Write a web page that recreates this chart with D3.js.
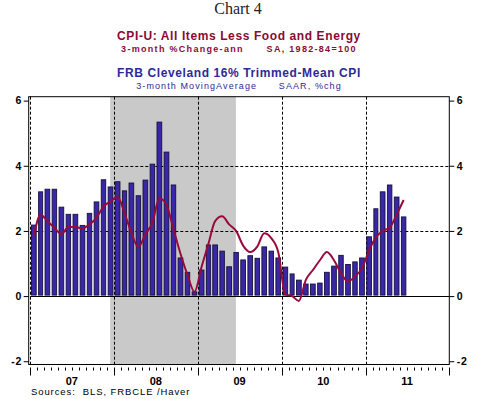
<!DOCTYPE html>
<html>
<head>
    <meta charset="utf-8">
    <style>
        body { margin: 0; background: #fff; }
        svg { display: block; }
        text { font-family: 'Liberation Sans', Arial, sans-serif; }
        .title-serif { font-family: 'Liberation Serif', 'Times New Roman', serif; }
        .grid { stroke: #000; stroke-width: 1px; stroke-dasharray: 3,2; }
    </style>
    <script src="https://d3js.org/d3.v7.min.js"></script>
</head>
<body>
    <script>
        // monthly data, Jan 2007 - Jun 2011
        const trimmedMean = [2.18, 3.2, 3.28, 3.28, 2.73, 2.51, 2.51, 2.17, 2.54, 2.89, 3.57, 3.35,
            3.51, 3.23, 3.47, 3.08, 3.56, 4.05, 5.34, 4.42, 3.41, 1.17, 0.73, 0.13,
            0.8, 1.57, 1.57, 1.38, 0.9, 1.34, 1.11, 1.24, 1.16, 1.51, 1.38, 1.17,
            0.89, 0.68, 0.49, 0.37, 0.37, 0.4, 0.73, 0.92, 1.25, 0.97, 1.05, 1.17,
            1.82, 2.68, 3.2, 3.41, 3.04, 2.43];

        const coreCPI = [1.85, 2.5, 2.3, 2.1, 1.9, 2.12, 2.12, 2.08, 2.2, 2.4, 2.75, 2.9,
            3.05, 2.55, 1.95, 1.5, 1.9, 2.25, 3.0, 2.8, 2.05, 1.3, 0.65, 0.13,
            0.9, 1.6, 2.3, 2.45, 2.2, 2.0, 1.55, 1.35, 1.52, 1.93, 1.78, 1.35,
            0.05, 0.0, -0.15, 0.5, 0.8, 1.1, 1.35, 1.1, 0.7, 0.45, 0.6, 0.85,
            1.4, 1.8, 2.0, 2.1, 2.5, 2.95];

        const yearLabels = ['07', '08', '09', '10', '11'];
        const yTicks = [-2, 0, 2, 4, 6];
        const gridValues = [2, 4];
        const recession = [new Date(2007, 11, 15), new Date(2009, 5, 15)];

        const width = 489, height = 399;
        const start = new Date(2007, 0, 1), end = new Date(2012, 0, 1);

        const x = d3.scaleTime().domain([start, end]).range([30.3, 449.3]);
        const y = d3.scaleLinear().domain([-2.1, 6.12]).range([364.5, 96.7]);

        const months = trimmedMean.map((_, i) => d3.timeMonth.offset(start, i));
        const mid = d => new Date((+d + +d3.timeMonth.offset(d, 1)) / 2);

        const svg = d3.select('body').append('svg')
            .attr('width', width)
            .attr('height', height);

        // titles
        svg.append('text').attr('class', 'title-serif')
            .attr('x', 238).attr('y', 14).attr('text-anchor', 'middle')
            .style('font-size', '16px').style('fill', '#222')
            .text('Chart 4');

        svg.append('text')
            .attr('x', 239).attr('y', 40).attr('text-anchor', 'middle')
            .style('font-size', '12px').style('font-weight', 'bold')
            .style('letter-spacing', '0.6px').style('fill', '#8a0a33')
            .text('CPI-U: All Items Less Food and Energy');

        svg.append('text')
            .attr('x', 239).attr('y', 52).attr('text-anchor', 'middle')
            .style('font-size', '9px').style('font-weight', 'bold')
            .style('letter-spacing', '1.3px').style('fill', '#8a0a33')
            .style('white-space', 'pre')
            .text('3-month %Change-ann      SA, 1982-84=100');

        svg.append('text')
            .attr('x', 239).attr('y', 77).attr('text-anchor', 'middle')
            .style('font-size', '12px').style('font-weight', 'bold')
            .style('letter-spacing', '0.6px').style('fill', '#2e2a96')
            .text('FRB Cleveland 16% Trimmed-Mean CPI');

        svg.append('text')
            .attr('x', 239).attr('y', 89).attr('text-anchor', 'middle')
            .style('font-size', '9px')
            .style('letter-spacing', '1.1px').style('fill', '#2e2a96')
            .style('white-space', 'pre')
            .text('3-month MovingAverage      SAAR, %chg');

        // recession shading
        svg.append('rect')
            .attr('x', x(recession[0]))
            .attr('y', y.range()[1])
            .attr('width', x(recession[1]) - x(recession[0]))
            .attr('height', y.range()[0] - y.range()[1])
            .style('fill', '#c9c9c9');

        // grid
        svg.selectAll('line.hgrid')
            .data(gridValues)
            .enter().append('line')
            .attr('class', 'grid')
            .attr('x1', x.range()[0]).attr('x2', x.range()[1])
            .attr('y1', d => Math.round(y(d)) + 0.5).attr('y2', d => Math.round(y(d)) + 0.5);

        const yearStarts = d3.timeYear.range(start, end);
        svg.selectAll('line.vgrid')
            .data(yearStarts)
            .enter().append('line')
            .attr('class', 'grid')
            .attr('x1', d => Math.round(x(d)) + 0.5).attr('x2', d => Math.round(x(d)) + 0.5)
            .attr('y1', y.range()[1]).attr('y2', y.range()[0]);

        // bars
        svg.selectAll('rect.bar')
            .data(trimmedMean)
            .enter().append('rect')
            .attr('class', 'bar')
            .attr('x', (d, i) => x(months[i]) + 1.2)
            .attr('width', (d, i) => x(d3.timeMonth.offset(months[i], 1)) - x(months[i]) - 2.4)
            .attr('y', d => y(d))
            .attr('height', d => y(0) - y(d) - 1)
            .style('fill', '#3a27a6')
            .style('stroke', '#14103c')
            .style('stroke-width', 0.9);

        // zero line
        svg.append('line')
            .attr('x1', x.range()[0]).attr('x2', x.range()[1])
            .attr('y1', Math.round(y(0)) + 0.5).attr('y2', Math.round(y(0)) + 0.5)
            .style('stroke', '#000');

        // core CPI line
        const line = d3.line()
            .x((d, i) => x(mid(months[i])))
            .y(d => y(d))
            .curve(d3.curveMonotoneX);

        svg.append('path')
            .datum(coreCPI)
            .attr('d', line)
            .style('fill', 'none')
            .style('stroke', '#990a3a')
            .style('stroke-width', 2);

        // frame
        const left = x.range()[0] - 1.6, right = x.range()[1];
        svg.append('rect')
            .attr('x', left).attr('y', y.range()[1])
            .attr('width', right - left)
            .attr('height', y.range()[0] - y.range()[1])
            .style('fill', 'none').style('stroke', '#000');

        // y axes both sides
        const fmt = d => d < 0 ? '-' + Math.abs(d) : String(d);
        const yAxisLeft = d3.axisLeft(y).tickValues(yTicks).tickSize(5).tickFormat(fmt);
        const yAxisRight = d3.axisRight(y).tickValues(yTicks).tickSize(5).tickFormat(fmt);

        const gl = svg.append('g').attr('transform', `translate(${left},0)`).call(yAxisLeft);
        const gr = svg.append('g').attr('transform', `translate(${right},0)`).call(yAxisRight);
        [gl, gr].forEach(g => {
            g.select('.domain').remove();
            g.selectAll('text')
                .style('font-size', '10.5px').style('font-weight', 'bold')
                .style('font-family', "'Liberation Sans', Arial, sans-serif")
                .style('letter-spacing', '0.8px')
                .style('fill', '#000');
        });
        gl.selectAll('text').attr('x', -6.5);
        gr.selectAll('text').attr('x', 7.5);

        // x axis: month ticks, long year ticks
        const tickTop = 367.5;
        const allMonths = d3.timeMonth.range(start, d3.timeMonth.offset(end, 1));
        svg.selectAll('line.mtick')
            .data(allMonths)
            .enter().append('line')
            .attr('x1', d => Math.round(x(d)) + 0.5).attr('x2', d => Math.round(x(d)) + 0.5)
            .attr('y1', tickTop)
            .attr('y2', d => d.getMonth() === 0 ? tickTop + 8 : tickTop + 3)
            .style('stroke', '#000');

        svg.selectAll('text.year')
            .data(yearLabels)
            .enter().append('text')
            .attr('x', (d, i) => x(new Date(2007 + i, 6, 1)))
            .attr('y', 385)
            .attr('text-anchor', 'middle')
            .style('font-size', '11px').style('font-weight', 'bold')
            .text(d => d);

        svg.append('text')
            .attr('x', 31).attr('y', 395)
            .style('font-size', '9.5px')
            .style('letter-spacing', '0.9px')
            .style('white-space', 'pre')
            .text('Sources:  BLS, FRBCLE /Haver');
    </script>
</body>
</html>
